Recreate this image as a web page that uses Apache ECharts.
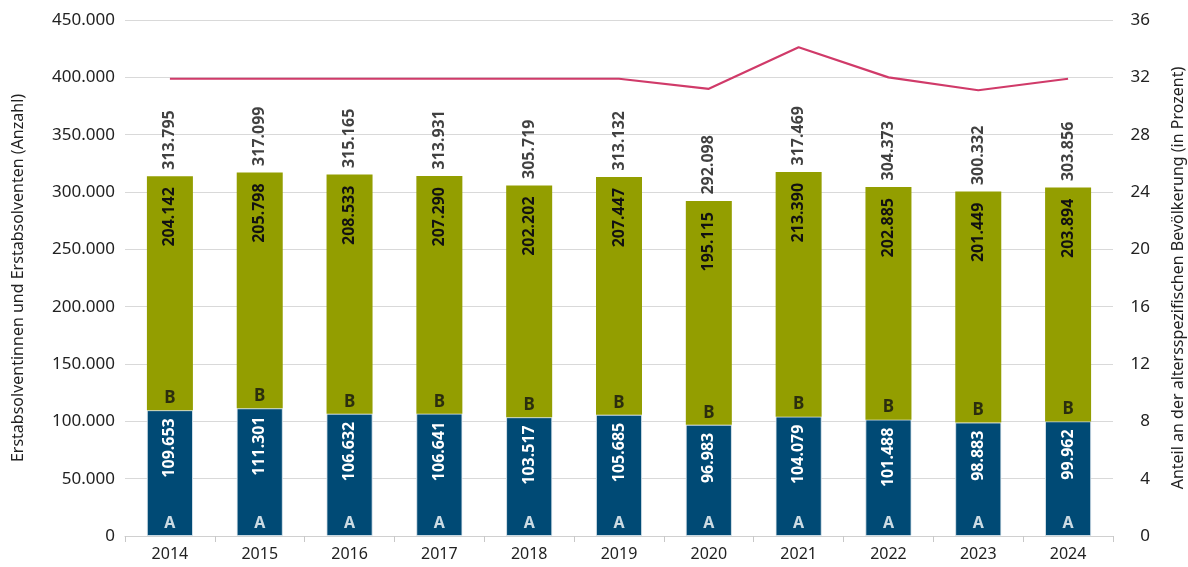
<!DOCTYPE html>
<html>
<head>
<meta charset="utf-8">
<script src="https://cdn.jsdelivr.net/npm/echarts@6/dist/echarts.min.js"></script>
<style>
  html, body { margin: 0; padding: 0; background: #fff; }
  #chart { width: 1188px; height: 567px; }
</style>
</head>
<body>
<div id="chart"></div>
<script>
const years = ['2014', '2015', '2016', '2017', '2018', '2019', '2020', '2021', '2022', '2023', '2024'];
const valuesA = [109653, 111301, 106632, 106641, 103517, 105685, 96983, 104079, 101488, 98883, 99962];
const valuesB = [204142, 205798, 208533, 207290, 202202, 207447, 195115, 213390, 202885, 201449, 203894];
const totals = [313795, 317099, 315165, 313931, 305719, 313132, 292098, 317469, 304373, 300332, 303856];
const shares = [31.9, 31.9, 31.9, 31.9, 31.9, 31.9, 31.2, 34.1, 32.0, 31.1, 31.9];

const FONT = 'Noto Sans';
const BLUE = '#004a75';
const GREEN = '#939e00';
const LINE = '#d03a69';

// Tausenderpunkt wie im Original
function fmt(v) {
  return String(Math.round(v)).replace(/\B(?=(\d{3})+(?!\d))/g, '.');
}

const chart = echarts.init(document.getElementById('chart'));

chart.setOption({
  animation: false,
  textStyle: { fontFamily: FONT },
  grid: { left: 125, right: 75, top: 20, bottom: 31, outerBoundsMode: 'none', containLabel: false },
  xAxis: {
    type: 'category',
    data: years,
    axisLine: { lineStyle: { color: '#d0d0d0' } },
    axisTick: { show: true, length: 6, lineStyle: { color: '#c8c8c8' } },
    axisLabel: { color: '#222', fontSize: 16, margin: 10, fontFamily: FONT }
  },
  yAxis: [{
    type: 'value',
    min: 0,
    max: 450000,
    interval: 50000,
    name: 'Erstabsolventinnen und Erstabsolventen (Anzahl)',
    nameLocation: 'middle',
    nameRotate: 90,
    nameGap: 99,
    nameTextStyle: { color: '#222', fontSize: 16, fontFamily: FONT },
    axisLine: { show: false },
    axisTick: { show: false },
    axisLabel: { color: '#222', fontSize: 17, margin: 10, formatter: fmt, fontFamily: FONT },
    splitLine: { lineStyle: { color: '#d9d9d9' } }
  }, {
    type: 'value',
    min: 0,
    max: 36,
    interval: 4,
    name: 'Anteil an der altersspezifischen Bevölkerung (in Prozent)',
    nameLocation: 'middle',
    nameRotate: 90,
    nameGap: 57,
    nameTextStyle: { color: '#222', fontSize: 16, fontFamily: FONT },
    axisLine: { show: false },
    axisTick: { show: false },
    axisLabel: { color: '#222', fontSize: 17, margin: 37, align: 'right', fontFamily: FONT },
    splitLine: { show: false }
  }],
  series: [{
    name: 'A',
    type: 'bar',
    stack: 'total',
    barWidth: 46,
    data: valuesA,
    itemStyle: { color: BLUE, borderColor: '#e4ecf1', borderWidth: 0.8 },
    label: {
      show: true,
      position: 'insideTop',
      rotate: 90,
      align: 'right',
      verticalAlign: 'middle',
      distance: 8,
      color: '#fff',
      fontWeight: 'bold',
      fontSize: 16,
      fontFamily: FONT,
      formatter: p => fmt(p.value)
    },
    z: 2
  }, {
    name: 'B',
    type: 'bar',
    stack: 'total',
    barWidth: 46,
    data: valuesB,
    itemStyle: { color: GREEN },
    label: {
      show: true,
      position: 'insideTop',
      rotate: 90,
      align: 'right',
      verticalAlign: 'middle',
      distance: 11,
      color: '#111',
      fontWeight: 'bold',
      fontSize: 16,
      fontFamily: FONT,
      formatter: p => fmt(p.value)
    },
    z: 2
  }, {
    // Buchstabe A am Fuß der Säule
    name: 'labelA',
    type: 'scatter',
    data: years.map(() => 0),
    symbolSize: 1,
    itemStyle: { color: 'rgba(0,0,0,0)' },
    silent: true,
    label: {
      show: true,
      position: 'top',
      distance: 4,
      color: '#fff',
      fontWeight: 'bold',
      fontSize: 16,
      fontFamily: FONT,
      formatter: 'A'
    },
    z: 5
  }, {
    // Buchstabe B am Fuß des oberen Segments
    name: 'labelB',
    type: 'scatter',
    data: valuesA,
    symbolSize: 1,
    itemStyle: { color: 'rgba(0,0,0,0)' },
    silent: true,
    label: {
      show: true,
      position: 'top',
      distance: 3,
      color: '#111',
      fontWeight: 'bold',
      fontSize: 17,
      fontFamily: FONT,
      formatter: 'B'
    },
    z: 5
  }, {
    // Summen über den Säulen
    name: 'Summe',
    type: 'scatter',
    data: totals,
    symbolSize: 1,
    itemStyle: { color: 'rgba(0,0,0,0)' },
    silent: true,
    label: {
      show: true,
      position: 'top',
      rotate: 90,
      align: 'left',
      verticalAlign: 'middle',
      distance: 6,
      color: '#111',
      fontWeight: 'bold',
      fontSize: 16,
      fontFamily: FONT,
      formatter: p => fmt(p.value)
    },
    z: 5
  }, {
    name: 'Anteil',
    type: 'line',
    yAxisIndex: 1,
    data: shares,
    showSymbol: false,
    symbol: 'none',
    lineStyle: { color: LINE, width: 2.2 },
    itemStyle: { color: LINE },
    z: 6
  }]
});
</script>
</body>
</html>
